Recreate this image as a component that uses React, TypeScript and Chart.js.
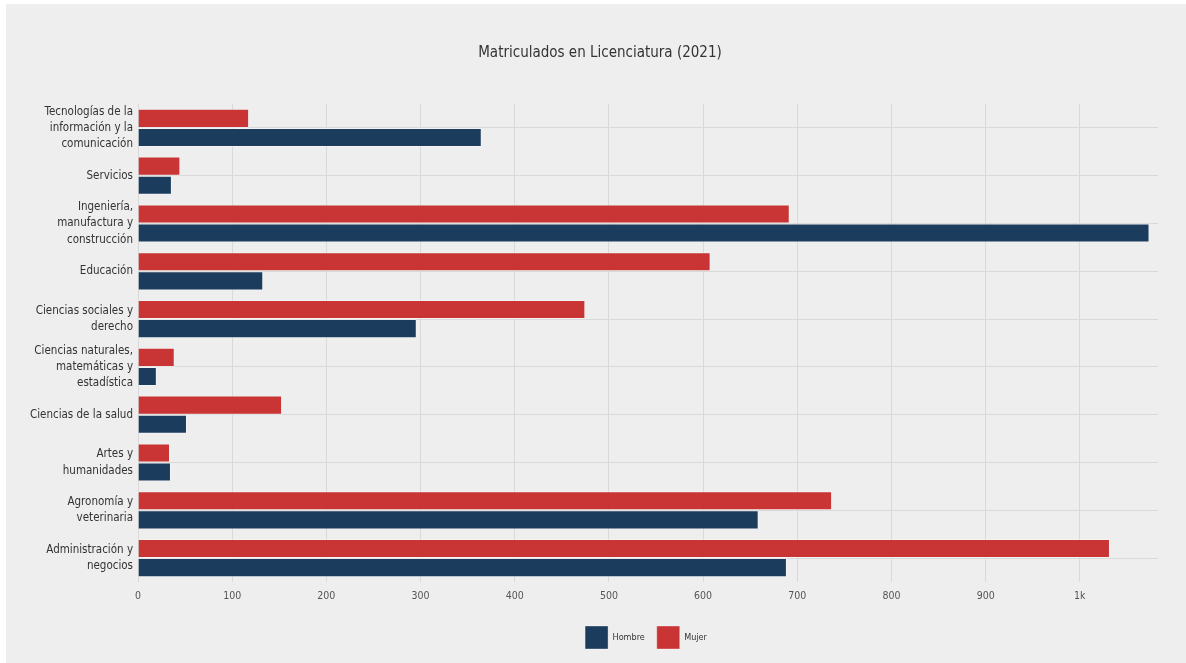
import React, { useEffect, useRef } from 'react';
import { Chart, registerables } from 'chart.js';

Chart.register(...registerables);

const TITLE = 'Matriculados en Licenciatura (2021)';

const categories: string[][] = [
  ['Tecnologías de la', 'información y la', 'comunicación'],
  ['Servicios'],
  ['Ingeniería,', 'manufactura y', 'construcción'],
  ['Educación'],
  ['Ciencias sociales y', 'derecho'],
  ['Ciencias naturales,', 'matemáticas y', 'estadística'],
  ['Ciencias de la salud'],
  ['Artes y', 'humanidades'],
  ['Agronomía y', 'veterinaria'],
  ['Administración y', 'negocios'],
];

const hombre = [365, 36, 1074, 133, 296, 20, 52, 35, 659, 689];
const mujer = [118, 45, 692, 608, 475, 39, 153, 34, 737, 1032];

const X_MAX = 1083;
const X_STEP = 100;

const FONT = "'Liberation Sans Narrow', 'DejaVu Sans Condensed', 'Noto Sans', sans-serif";

const boxShift = {
  id: 'boxShift',
  afterLayout(chart: any) {
    const lg = chart.legend;
    if (lg) {
      lg.left += 64;
      lg.right += 64;
    }
    const tt = chart.titleBlock;
    if (tt) {
      tt.left += 18;
      tt.right += 18;
    }
  },
};

export default function App() {
  const ref = useRef<HTMLCanvasElement | null>(null);

  useEffect(() => {
    if (!ref.current) return;
    Chart.defaults.font.family = FONT;
    const chart = new Chart(ref.current, {
      type: 'bar',
      data: {
        labels: categories,
        datasets: [
          {
            label: 'Mujer',
            data: mujer,
            backgroundColor: '#c93434',
            borderColor: 'rgba(255,255,255,0.35)',
            borderWidth: 1,
            categoryPercentage: 0.8,
            barPercentage: 1.0,
          },
          {
            label: 'Hombre',
            data: hombre,
            backgroundColor: '#1c3c5e',
            borderColor: 'rgba(255,255,255,0.35)',
            borderWidth: 1,
            categoryPercentage: 0.8,
            barPercentage: 1.0,
          },
        ],
      },
      plugins: [boxShift],
      options: {
        indexAxis: 'y',
        responsive: false,
        animation: false,
        layout: { padding: { left: 0, right: 28, top: 0, bottom: 4 } },
        plugins: {
          title: {
            display: true,
            text: TITLE,
            color: '#333333',
            font: { size: 15, weight: 'normal', family: FONT },
            padding: { top: 40, bottom: 42 },
          },
          legend: {
            position: 'bottom',
            reverse: true,
            labels: {
              boxWidth: 23,
              boxHeight: 23,
              padding: 12,
              color: '#333333',
              font: { size: 9, family: FONT },
            },
          },
          tooltip: { enabled: false },
        },
        scales: {
          x: {
            type: 'linear',
            min: 0,
            max: X_MAX,
            ticks: {
              stepSize: X_STEP,
              color: '#555555',
              font: { size: 10.5, family: FONT },
              padding: 8,
              callback: (v: any) => (Number(v) === 1000 ? '1k' : String(v)),
            },
            afterBuildTicks: (scale: any) => {
              scale.ticks = scale.ticks.filter((t: any) => t.value % X_STEP === 0);
            },
            afterFit: (scale: any) => {
              scale.height = 32;
            },
            grid: { color: '#d9d9d9', drawTicks: false },
            border: { display: false },
          },
          y: {
            type: 'category',
            ticks: {
              color: '#333333',
              font: { size: 11.5, family: FONT, lineHeight: 1.42 },
              padding: 5,
              autoSkip: false,
            },
            afterFit: (scale: any) => {
              scale.width = 132;
            },
            grid: { color: '#d9d9d9', drawTicks: false, offset: false },
            border: { display: false },
          },
        },
      },
    });
    return () => chart.destroy();
  }, []);

  return (
    <div
      style={{
        position: 'absolute',
        left: 6,
        top: 4,
        width: 1180,
        height: 659,
        background: '#eeeeee',
      }}
    >
      <canvas ref={ref} width={1180} height={659} style={{ display: 'block' }} />
    </div>
  );
}
